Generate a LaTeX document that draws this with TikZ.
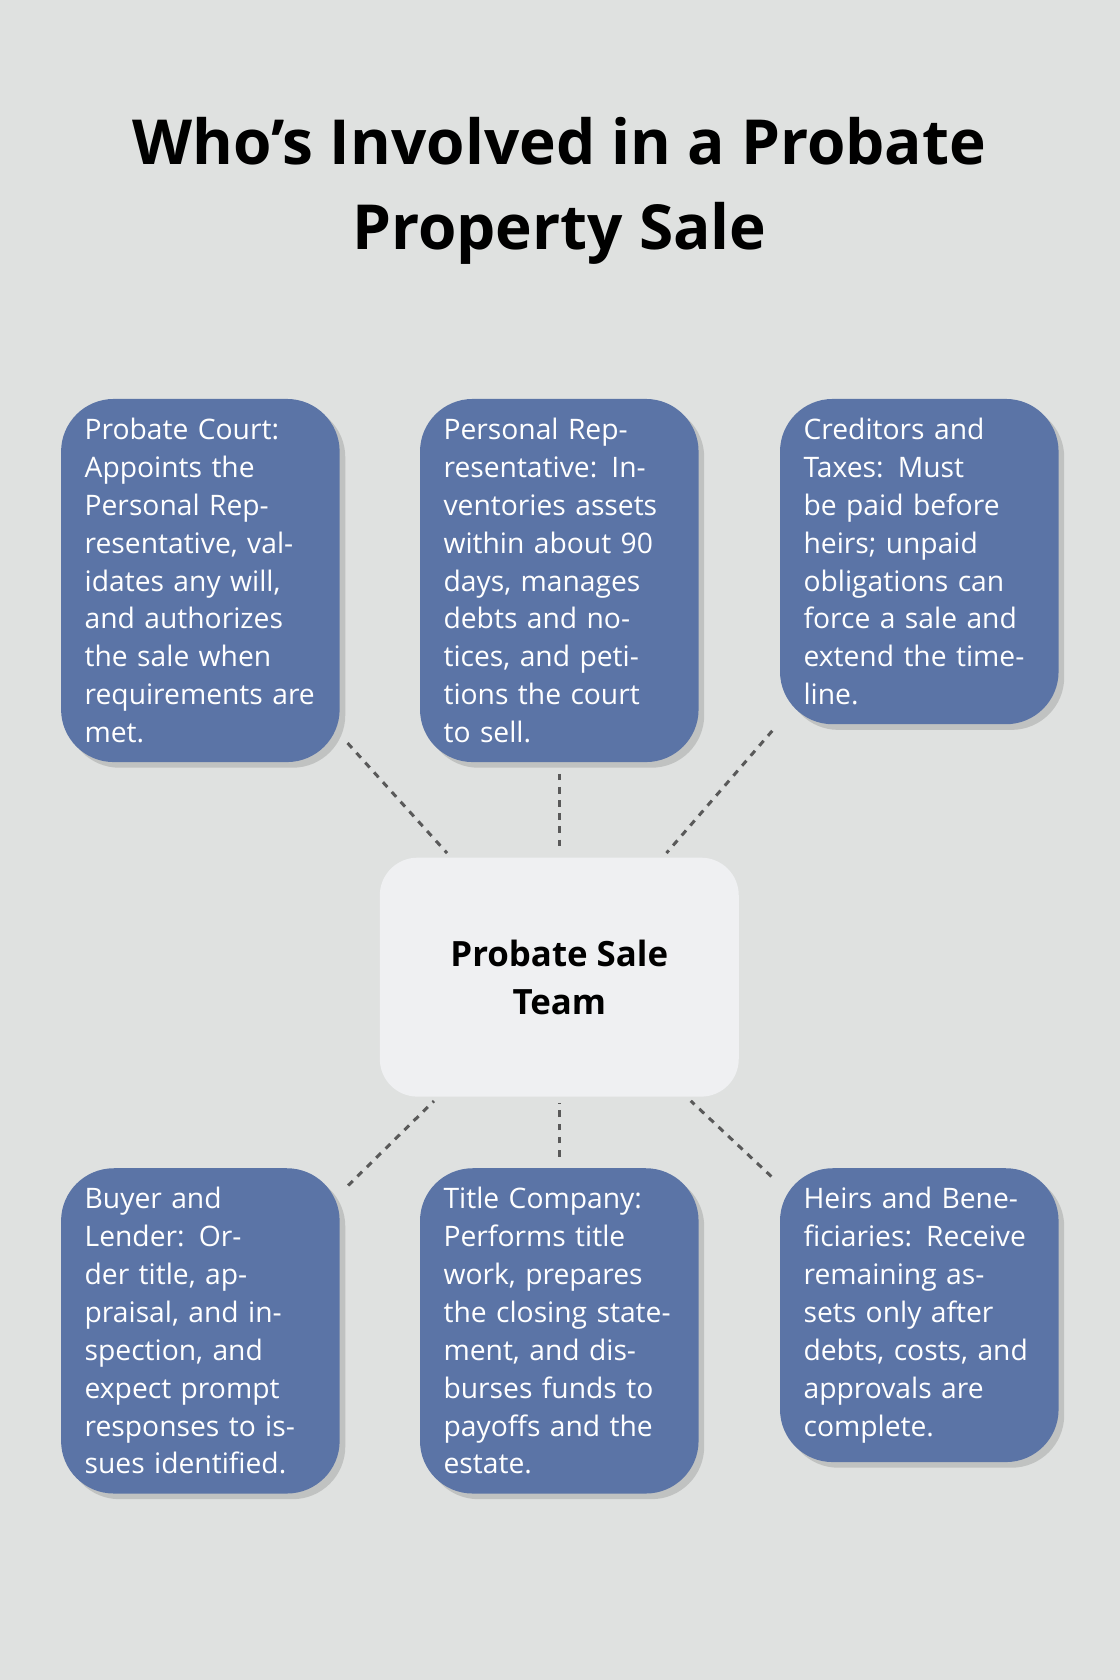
\documentclass[tikz,border=0pt]{standalone}
\usepackage{fontspec}
\setmainfont{Open Sans}
\usetikzlibrary{positioning,shadows}
\definecolor{bgcol}{HTML}{DFE1E0}
\definecolor{boxcol}{HTML}{5B74A6}
\definecolor{hubcol}{HTML}{EFF0F2}
\tikzset{
    role/.style={draw=none, fill=boxcol, rounded corners=28, text=white, align=left,
        text width=216*0.02cm, inner xsep=22*0.02cm, inner ysep=18*0.02cm,
        font=\fontsize{15}{20.1}\selectfont, anchor=north,
        drop shadow={shadow xshift=3pt, shadow yshift=-3pt, opacity=0.25, fill=black!60}},
    hub/.style={draw=none, fill=hubcol, rounded corners=20, align=center,
        minimum width=335*0.02cm, minimum height=223*0.02cm,
        font=\fontsize{18.5}{25.5}\selectfont\bfseries},
    link/.style={draw=black!65, line width=1.6pt, dash pattern=on 3.5pt off 3.5pt,
        shorten <=6pt, shorten >=3pt}
}
\begin{document}
\begin{tikzpicture}[x=0.02cm, y=-0.02cm]
    \fill[bgcol] (0,0) rectangle (1045,1568);
    \useasboundingbox (0,0) rectangle (1045,1568);

    % Title
    \node (title) at (522,178) [align=center, font=\fontsize{33}{45.5}\selectfont\bfseries]
        {Who’s Involved in a Probate\\Property Sale};

    % Hub
    \node[hub] (team) at (522,912) {Probate Sale\\Team};

    % Top row
    \node[role] (court) at (187,372) {Probate Court: Appoints the Personal Representative, validates any will, and authorizes the sale when requirements are met.};
    \node[role] (rep) at (522,372) {Personal Representative: Inventories assets within about 90 days, manages debts and notices, and petitions the court to sell.};
    \node[role] (cred) at (858,372) {Creditors and Taxes: Must be paid before heirs; unpaid obligations can force a sale and extend the timeline.};

    % Bottom row
    \node[role] (buyer) at (187,1090) {Buyer and Lender: Order title, appraisal, and inspection, and expect prompt responses to issues identified.};
    \node[role] (titleco) at (522,1090) {Title Company: Performs title work, prepares the closing statement, and disburses funds to payoffs and the estate.};
    \node[role] (heirs) at (858,1090) {Heirs and Beneficiaries: Receive remaining assets only after debts, costs, and approvals are complete.};

    % Links
    \foreach \n in {court,cred,buyer,heirs}
        \draw[link] (\n) -- (team);
    \draw[link] (rep.south) -- (team.north);
    \draw[link] (titleco.north) -- (team.south);
\end{tikzpicture}
\end{document}
